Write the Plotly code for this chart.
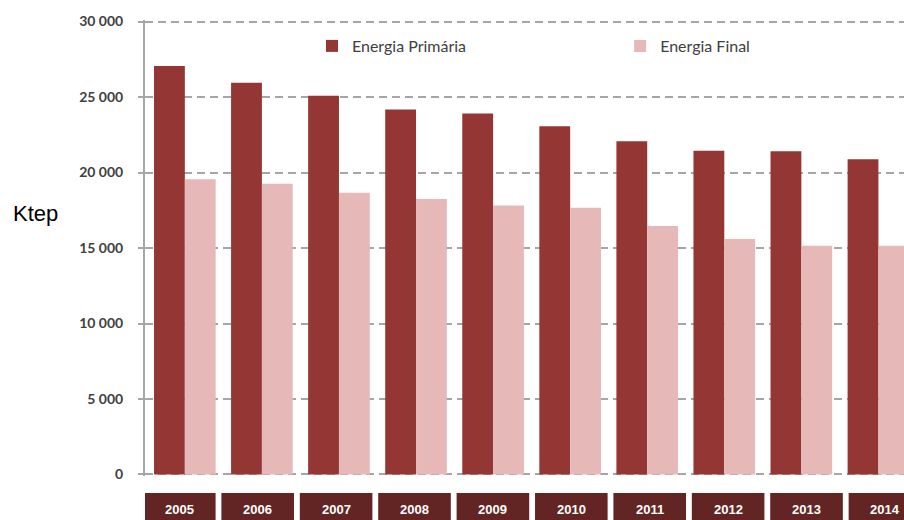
import plotly.graph_objects as go

years = ["2005", "2006", "2007", "2008", "2009", "2010", "2011", "2012", "2013", "2014"]
primaria = [27050, 25950, 25080, 24170, 23900, 23060, 22070, 21440, 21410, 20880]
final = [19550, 19260, 18660, 18240, 17820, 17670, 16460, 15600, 15150, 15150]
y_ticks = [0, 5000, 10000, 15000, 20000, 25000, 30000]

C_PRIM = "#943634"
C_FIN = "#E6B9B8"
C_BOX = "#632523"
C_GRID = "#A6A6A6"
C_TEXT = "#404040"

fig = go.Figure()
fig.add_trace(go.Bar(x=list(range(len(years))), y=primaria, name="Energia Primária",
                     marker=dict(color=C_PRIM, line=dict(width=0)), legend="legend"))
fig.add_trace(go.Bar(x=list(range(len(years))), y=final, name="Energia Final",
                     marker=dict(color=C_FIN, line=dict(width=0)), legend="legend2"))

PLOT_H = 456
# category label boxes (separate table below the chart)
step = 1.0174
box_top = -17 / PLOT_H
for i, yr in enumerate(years):
    left = -0.543 + i * step
    right = left + 0.942
    fig.add_shape(type="rect", xref="x", yref="paper", x0=left, x1=right,
                  y0=box_top, y1=-0.2, fillcolor=C_BOX, line=dict(width=0), layer="above")
    fig.add_annotation(x=(left + right) / 2, y=-33 / PLOT_H, xref="x", yref="paper",
                       text=yr, showarrow=False,
                       font=dict(family="Liberation Sans Narrow, Arial Narrow, Arial", size=13,
                                 color="white", weight="bold"),
                       xanchor="center", yanchor="middle")

fig.add_annotation(x=-0.144, y=0.575, xref="paper", yref="paper", text="Ktep", showarrow=False,
                   font=dict(family="Liberation Sans, Arial", size=22, color="black"),
                   xanchor="center", yanchor="middle")

leg_font = dict(family="Lato, Noto Sans, sans-serif", size=16, color=C_TEXT)
fig.update_layout(
    width=904, height=520,
    margin=dict(l=145, r=0, t=20, b=44),
    paper_bgcolor="white", plot_bgcolor="white",
    barmode="group", bargap=0.2, bargroupgap=0,
    separators=". ",
    font=dict(family="Lato, Noto Sans, sans-serif", color=C_TEXT),
    showlegend=True,
    legend=dict(orientation="h", x=0.2200, y=0.943, xanchor="left", yanchor="middle",
                bgcolor="rgba(0,0,0,0)", borderwidth=0, font=leg_font),
    legend2=dict(orientation="h", x=0.626, y=0.943, xanchor="left", yanchor="middle",
                 bgcolor="rgba(0,0,0,0)", borderwidth=0, font=leg_font),
    xaxis=dict(range=[-0.517, 9.332], showticklabels=False, showgrid=False, zeroline=False,
               showline=False, ticks="", fixedrange=True),
    yaxis=dict(range=[-100, 30100], tickvals=y_ticks, tickformat=",d",
               showgrid=True, gridcolor=C_GRID, gridwidth=2, griddash="8px,5px",
               zeroline=False, showline=True, linecolor=C_GRID, linewidth=2,
               ticks="outside", ticklen=5, tickcolor=C_GRID, tickwidth=2,
               ticklabelstandoff=12,
               tickfont=dict(family="Lato, Noto Sans, sans-serif", size=14, color=C_TEXT, weight="bold")),
)

fig.write_html("out.html")
